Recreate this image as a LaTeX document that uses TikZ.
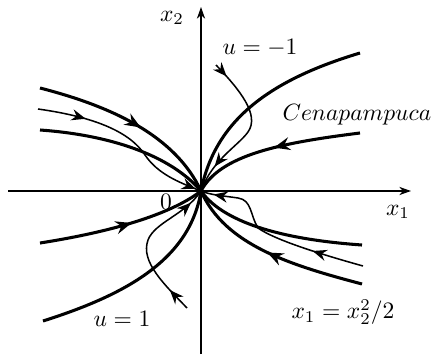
\documentclass[tikz,border=0pt]{standalone}
\usetikzlibrary{arrows.meta,decorations.markings}

\begin{document}
\begin{tikzpicture}[x=0.425pt,y=-0.425pt,line width=0.5pt,
  traj/.style={line width=1.3pt},
  thintraj/.style={line width=0.65pt},
  midarr/.style={postaction={decorate},decoration={markings,
    mark=at position #1 with {\arrow{Stealth[length=6.8pt,width=5.5pt,inset=2.3pt]}}}},
  twoarr/.style 2 args={postaction={decorate},decoration={markings,
    mark=at position #1 with {\arrow{Stealth[length=6pt,width=4.8pt,inset=2pt]}},
    mark=at position #2 with {\arrow{Stealth[length=6pt,width=4.8pt,inset=2pt]}}}}]
\useasboundingbox (0,0) rectangle (433,354);
% начало координат и оси
\coordinate (O) at (201,191);
\draw[-{Stealth[length=5pt,width=3.5pt]}] (8,191) -- (411,191);
\draw[-{Stealth[length=5pt,width=3.5pt]}] (201,354) -- (201,7);
\node (lx1) at (398,212) {$x_1$};
\node (lx2) at (172,18) {$x_2$};
\node (l0) at (166,202) {$0$};
% верхняя левая четверть
\draw[traj,midarr=0.55] (40,88) .. controls (110,106) and (175,135) .. (O);
\draw[traj] (40,130) .. controls (110,135) and (170,155) .. (O);
\draw[thintraj,twoarr={0.26}{0.97}] (38,109) .. controls (95,117) and (130,132) .. (145,155)
  .. controls (158,174) and (178,182) .. (O);
% верхняя правая четверть
\draw[traj] (360,53) .. controls (270,80) and (215,120) .. (O);
\draw[traj,midarr=0.5] (360,133) .. controls (280,143) and (220,155) .. (O);
\draw[thintraj,twoarr={0.1}{0.82}] (216,65) .. controls (240,90) and (260,115) .. (248,132)
  .. controls (238,146) and (212,160) .. (O);
% нижняя левая четверть
\draw[traj,midarr=0.55] (40,243) .. controls (110,232) and (170,215) .. (O);
\draw[traj] (43,321) .. controls (125,295) and (190,260) .. (O);
\draw[thintraj,twoarr={0.16}{0.9}] (187,308) .. controls (165,285) and (140,262) .. (148,240)
  .. controls (155,222) and (185,215) .. (O);
% нижняя правая четверть
\draw[traj] (362,245) .. controls (290,240) and (225,225) .. (O);
\draw[traj,midarr=0.52] (362,284) .. controls (290,265) and (225,245) .. (O);
\draw[thintraj,twoarr={0.28}{0.93}] (363,266) .. controls (320,254) and (275,240) .. (258,228)
  .. controls (250,215) and (252,200) .. (238,198) .. controls (225,196) and (210,195) .. (O);
% подписи
\node (lum) at (260,48) {$u=-1$};
\node (lup) at (122,319) {$u=1$};
\node[anchor=east,inner sep=0pt] (lsep) at (432,115) {$Cenapampuca$};
\node (lpar) at (343,312) {$x_1=x_2^2/2$};
\end{tikzpicture}
\end{document}
